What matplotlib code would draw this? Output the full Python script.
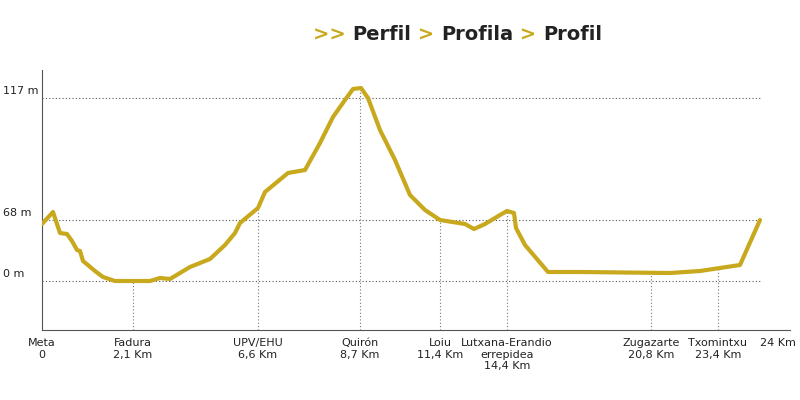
import numpy as np
import matplotlib
matplotlib.use("Agg")
import matplotlib.pyplot as plt

# profile in chart units (x: horizontal position, y: vertical position; y grows downward)
px = [42,53,60,67,72,77,80,83,95,103,115,150,160,170,190,210,225,235,240,258,265,288,305,320,333,345,353,361,368,380,395,410,425,440,465,474,485,500,507,514,516,525,548,580,670,700,740,760]
py = [224,212,233,234,241,250,251,261,271,277,281,281,278,279,267,259,245,233,223,208,192,173,170,143,117,100,89,88,98,130,160,195,210,220,224,229,224,215,211,213,228,245,272,272,273,271,265,220]

tick_x = [42,133,258,360,440,507,651,718,778]
tick_labels = ["Meta\n0","Fadura\n2,1 Km","UPV/EHU\n6,6 Km","Quirón\n8,7 Km","Loiu\n11,4 Km",
               "Lutxana-Erandio\nerrepidea\n14,4 Km","Zugazarte\n20,8 Km","Txomintxu\n23,4 Km","24 Km"]
level_y = [98,220,281]
level_labels = ["117 m","68 m","0 m"]

gold = "#C8A81C"
dark = "#222222"

fig = plt.figure(figsize=(8,4), dpi=100)
ax = fig.add_axes([42/800, 70/400, (790-42)/800, (330-70)/400])
ax.set_xlim(42, 790)
ax.set_ylim(330, 70)
for s in ["top","right"]:
    ax.spines[s].set_visible(False)
ax.spines["left"].set_color("#555555")
ax.spines["bottom"].set_color("#555555")
ax.spines["left"].set_linewidth(0.8)
ax.spines["bottom"].set_linewidth(0.8)

for y in level_y:
    ax.plot([42,760],[y,y], color="#555555", lw=0.8, ls=(0,(1,2)))
for x in tick_x[1:-1]:
    yc = np.interp(x, px, py)
    ax.plot([x,x],[330,yc], color="#777777", lw=0.8, ls=(0,(1,2)))

ax.plot(px, py, color=gold, lw=3, solid_joinstyle="round", solid_capstyle="round", zorder=3)

ax.set_yticks([])
for y, lab in zip(level_y, level_labels):
    ax.text(3, y - 2, lab, fontsize=8, color=dark, ha="left", va="bottom", clip_on=False)
ax.set_xticks(tick_x)
ax.set_xticklabels(tick_labels, fontsize=8, color=dark, linespacing=1.15)
ax.tick_params(axis="x", length=0, pad=6)

# title
parts = [(">> ", gold), ("Perfil", dark), (" > ", gold), ("Profila", dark), (" > ", gold), ("Profil", dark)]
fig.canvas.draw()
r = fig.canvas.get_renderer()
x0 = 313 / 800
for txt, c in parts:
    t = fig.text(x0, 0.915, txt, color=c, fontsize=14, fontweight="bold", ha="left", va="center")
    bb = t.get_window_extent(r)
    x0 += bb.width / 800

fig.savefig("out.png", dpi=100)
